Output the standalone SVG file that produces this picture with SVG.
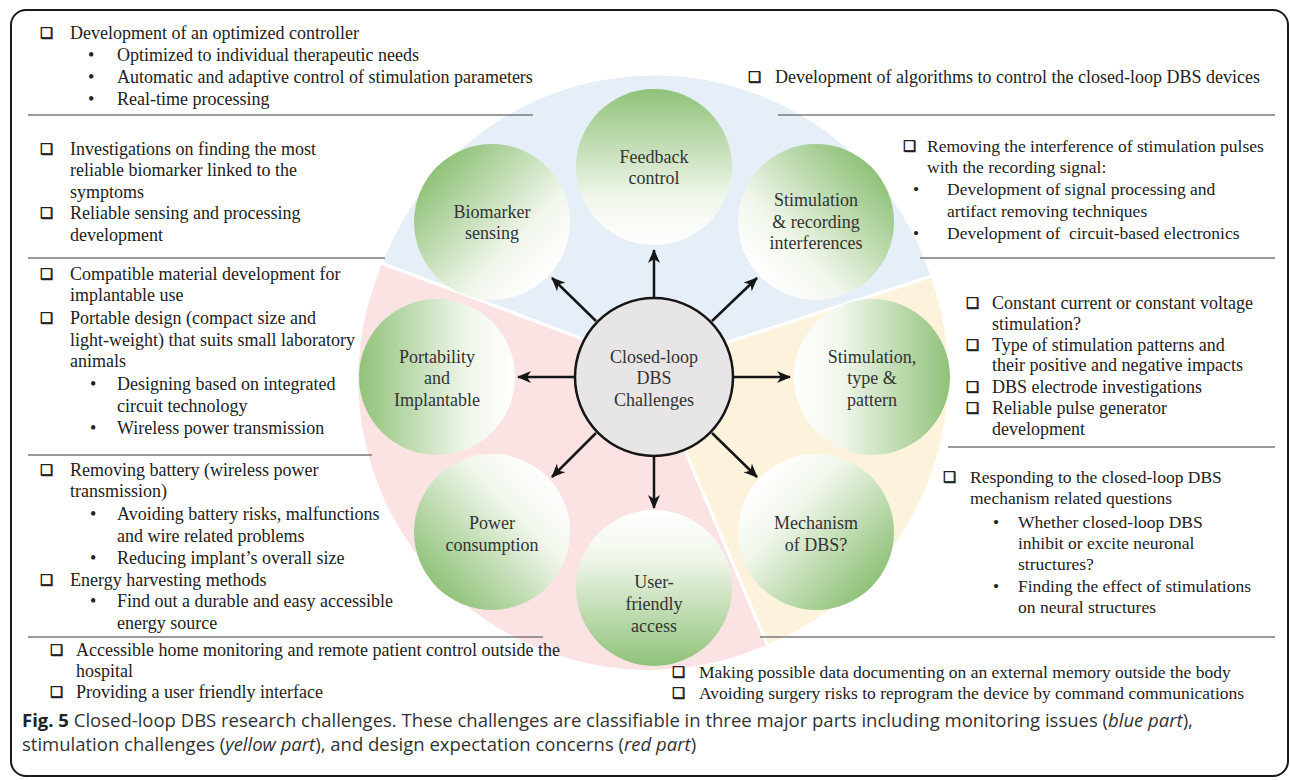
<svg xmlns="http://www.w3.org/2000/svg" width="1290" height="780" viewBox="0 0 1290 780">
<style>
.t{font-family:"Liberation Serif","Times New Roman",serif;font-size:18px;fill:#222}
.ts{font-family:"Liberation Serif","Times New Roman",serif;font-size:17.5px;fill:#222}
.cb{font-family:"DejaVu Sans",sans-serif;font-size:14.5px;fill:#222;stroke:#222;stroke-width:0.6}
.n{font-family:"Liberation Serif","Times New Roman",serif;font-size:18px;fill:#333;text-anchor:middle}
.cap{font-family:"Open Sans","Liberation Sans",sans-serif;font-size:18.5px;fill:#333}
.sep{stroke:#7a7a7a;stroke-width:1.6;fill:none}
.arr{stroke:#151515;stroke-width:2.5;fill:none;marker-end:url(#ah)}
</style>
<defs>
<marker id="ah" markerUnits="userSpaceOnUse" markerWidth="16" markerHeight="14" refX="13" refY="6" orient="auto">
<path d="M0,0 L14,6 L0,12 L4,6 Z" fill="#151515"/>
</marker>
<linearGradient id="gF" x1="0.5" y1="1" x2="0.5" y2="0"><stop offset="0" stop-color="#ffffff"/><stop offset="0.3" stop-color="#f1f7ec"/><stop offset="1" stop-color="#90c279"/></linearGradient>
<linearGradient id="gB" x1="0.861" y1="0.845" x2="0.139" y2="0.155"><stop offset="0" stop-color="#ffffff"/><stop offset="0.3" stop-color="#f1f7ec"/><stop offset="1" stop-color="#90c279"/></linearGradient>
<linearGradient id="gS" x1="0.139" y1="0.845" x2="0.861" y2="0.155"><stop offset="0" stop-color="#ffffff"/><stop offset="0.3" stop-color="#f1f7ec"/><stop offset="1" stop-color="#90c279"/></linearGradient>
<linearGradient id="gP" x1="1" y1="0.5" x2="0" y2="0.5"><stop offset="0" stop-color="#ffffff"/><stop offset="0.3" stop-color="#f1f7ec"/><stop offset="1" stop-color="#90c279"/></linearGradient>
<linearGradient id="gT" x1="0" y1="0.5" x2="1" y2="0.5"><stop offset="0" stop-color="#ffffff"/><stop offset="0.3" stop-color="#f1f7ec"/><stop offset="1" stop-color="#90c279"/></linearGradient>
<linearGradient id="gC" x1="0.861" y1="0.155" x2="0.139" y2="0.845"><stop offset="0" stop-color="#ffffff"/><stop offset="0.3" stop-color="#f1f7ec"/><stop offset="1" stop-color="#90c279"/></linearGradient>
<linearGradient id="gM" x1="0.139" y1="0.155" x2="0.861" y2="0.845"><stop offset="0" stop-color="#ffffff"/><stop offset="0.3" stop-color="#f1f7ec"/><stop offset="1" stop-color="#90c279"/></linearGradient>
<linearGradient id="gU" x1="0.5" y1="0" x2="0.5" y2="1"><stop offset="0" stop-color="#ffffff"/><stop offset="0.3" stop-color="#f1f7ec"/><stop offset="1" stop-color="#90c279"/></linearGradient>
</defs>
<rect x="0" y="0" width="1290" height="780" fill="#ffffff"/>
<rect x="11" y="10" width="1277" height="766" rx="15" ry="15" fill="#ffffff" stroke="#1a1a1a" stroke-width="2"/>

<g id="sectors">
<path d="M654,366 L932,276 A292,292 0 0 0 381,263 Z" fill="#e6eef8" stroke="#ffffff" stroke-width="3"/>
<path d="M654,366 L381,263 A292,292 0 0 0 768,646 L654,377 Z" fill="#fce3e3" stroke="#ffffff" stroke-width="3"/>
<path d="M654,377 L768,646 A292,292 0 0 0 932,276 L654,366 Z" fill="#fdf3dd" stroke="#ffffff" stroke-width="3"/>
</g>

<g id="separators">
<line class="sep" x1="28" y1="115" x2="533" y2="115"/>
<line class="sep" x1="778" y1="115" x2="1275" y2="115"/>
<line class="sep" x1="28" y1="258" x2="385" y2="258"/>
<line class="sep" x1="920" y1="258" x2="1275" y2="258"/>
<line class="sep" x1="28" y1="455" x2="372" y2="455"/>
<line class="sep" x1="948" y1="447" x2="1275" y2="447"/>
<line class="sep" x1="28" y1="637" x2="543" y2="637"/>
<line class="sep" x1="760" y1="637" x2="1275" y2="637"/>
</g>

<g id="connectors">
<line class="arr" x1="654" y1="298" x2="654" y2="250"/>
<line class="arr" x1="712" y1="321" x2="757" y2="278"/>
<line class="arr" x1="733" y1="377" x2="790" y2="377"/>
<line class="arr" x1="712" y1="433" x2="757" y2="477"/>
<line class="arr" x1="654" y1="456" x2="654" y2="508"/>
<line class="arr" x1="596" y1="433" x2="552" y2="477"/>
<line class="arr" x1="575" y1="377" x2="518" y2="377"/>
<line class="arr" x1="596" y1="321" x2="552" y2="278"/>
</g>

<g id="node-feedback">
<circle cx="654" cy="167" r="78" fill="url(#gF)"/>
<text class="n" x="654" y="163">Feedback</text>
<text class="n" x="654" y="184">control</text>
</g>
<g id="node-biomarker">
<circle cx="492" cy="222" r="78" fill="url(#gB)"/>
<text class="n" x="492" y="218">Biomarker</text>
<text class="n" x="492" y="239">sensing</text>
</g>
<g id="node-stimrec">
<circle cx="816" cy="222" r="78" fill="url(#gS)"/>
<text class="n" x="816" y="206">Stimulation</text>
<text class="n" x="816" y="228">&amp; recording</text>
<text class="n" x="816" y="249">interferences</text>
</g>
<g id="node-portability">
<circle cx="437" cy="377" r="78" fill="url(#gP)"/>
<text class="n" x="437" y="363">Portability</text>
<text class="n" x="437" y="384">and</text>
<text class="n" x="437" y="406">Implantable</text>
</g>
<g id="node-stimtype">
<circle cx="872" cy="377" r="78" fill="url(#gT)"/>
<text class="n" x="872" y="363">Stimulation,</text>
<text class="n" x="872" y="384">type &amp;</text>
<text class="n" x="872" y="406">pattern</text>
</g>
<g id="node-power">
<circle cx="492" cy="532" r="78" fill="url(#gC)"/>
<text class="n" x="492" y="529">Power</text>
<text class="n" x="492" y="551">consumption</text>
</g>
<g id="node-mechanism">
<circle cx="816" cy="532" r="78" fill="url(#gM)"/>
<text class="n" x="816" y="529">Mechanism</text>
<text class="n" x="816" y="551">of DBS?</text>
</g>
<g id="node-user">
<circle cx="654" cy="588" r="78" fill="url(#gU)"/>
<text class="n" x="654" y="588">User-</text>
<text class="n" x="654" y="610">friendly</text>
<text class="n" x="654" y="632">access</text>
</g>
<g id="node-center">
<circle cx="654" cy="377" r="79" fill="#e7e5e5" stroke="#151515" stroke-width="2.5"/>
<text class="n" x="654" y="363">Closed-loop</text>
<text class="n" x="654" y="384">DBS</text>
<text class="n" x="654" y="406">Challenges</text>
</g>

<g id="text-controller">
<text class="cb" x="40" y="38">❑</text>
<text class="t" x="70" y="39">Development of an optimized controller</text>
<text class="t" x="88" y="61">•</text><text class="t" x="117" y="61">Optimized to individual therapeutic needs</text>
<text class="t" x="88" y="83">•</text><text class="t" x="117" y="83">Automatic and adaptive control of stimulation parameters</text>
<text class="t" x="88" y="105">•</text><text class="t" x="117" y="105">Real-time processing</text>
</g>
<g id="text-algorithms">
<text class="cb" x="748" y="82">❑</text>
<text class="t" x="775" y="83">Development of algorithms to control the closed-loop DBS devices</text>
</g>
<g id="text-biomarker">
<text class="cb" x="40" y="154">❑</text>
<text class="t" x="70" y="155">Investigations on finding the most</text>
<text class="t" x="70" y="176">reliable biomarker linked to the</text>
<text class="t" x="70" y="198">symptoms</text>
<text class="cb" x="40" y="218">❑</text>
<text class="t" x="70" y="219">Reliable sensing and processing</text>
<text class="t" x="70" y="241">development</text>
</g>
<g id="text-interference">
<text class="cb" x="903" y="151">❑</text>
<text class="ts" x="927" y="152">Removing the interference of stimulation pulses</text>
<text class="ts" x="927" y="173">with the recording signal:</text>
<text class="ts" x="913" y="195">•</text><text class="ts" x="947" y="195">Development of signal processing and</text>
<text class="ts" x="947" y="217">artifact removing techniques</text>
<text class="ts" x="913" y="239">•</text><text class="ts" x="947" y="239">Development of&#160; circuit-based electronics</text>
</g>
<g id="text-portability">
<text class="cb" x="40" y="279">❑</text>
<text class="t" x="70" y="280">Compatible material development for</text>
<text class="t" x="70" y="301">implantable use</text>
<text class="cb" x="40" y="323">❑</text>
<text class="t" x="70" y="324">Portable design (compact size and</text>
<text class="t" x="70" y="346">light-weight) that suits small laboratory</text>
<text class="t" x="70" y="367">animals</text>
<text class="t" x="90" y="390">•</text><text class="t" x="117" y="390">Designing based on integrated</text>
<text class="t" x="117" y="412">circuit technology</text>
<text class="t" x="90" y="434">•</text><text class="t" x="117" y="434">Wireless power transmission</text>
</g>
<g id="text-stimtype">
<text class="cb" x="966" y="308">❑</text>
<text class="t" x="992" y="309">Constant current or constant voltage</text>
<text class="t" x="992" y="330">stimulation?</text>
<text class="cb" x="966" y="350">❑</text>
<text class="t" x="992" y="351">Type of stimulation patterns and</text>
<text class="t" x="992" y="371">their positive and negative impacts</text>
<text class="cb" x="966" y="392">❑</text>
<text class="t" x="992" y="393">DBS electrode investigations</text>
<text class="cb" x="966" y="413">❑</text>
<text class="t" x="992" y="414">Reliable pulse generator</text>
<text class="t" x="992" y="435">development</text>
</g>
<g id="text-power">
<text class="cb" x="40" y="475">❑</text>
<text class="t" x="70" y="476">Removing battery (wireless power</text>
<text class="t" x="70" y="497">transmission)</text>
<text class="t" x="90" y="520">•</text><text class="t" x="117" y="520">Avoiding battery risks, malfunctions</text>
<text class="t" x="117" y="542">and wire related problems</text>
<text class="t" x="90" y="564">•</text><text class="t" x="117" y="564">Reducing implant’s overall size</text>
<text class="cb" x="40" y="585">❑</text>
<text class="t" x="70" y="586">Energy harvesting methods</text>
<text class="t" x="90" y="607">•</text><text class="t" x="117" y="607">Find out a durable and easy accessible</text>
<text class="t" x="117" y="629">energy source</text>
</g>
<g id="text-mechanism">
<text class="cb" x="943" y="482">❑</text>
<text class="ts" x="970" y="483">Responding to the closed-loop DBS</text>
<text class="ts" x="970" y="504">mechanism related questions</text>
<text class="ts" x="993" y="528">•</text><text class="ts" x="1018" y="528">Whether closed-loop DBS</text>
<text class="ts" x="1018" y="549">inhibit or excite neuronal</text>
<text class="ts" x="1018" y="570">structures?</text>
<text class="ts" x="993" y="592">•</text><text class="ts" x="1018" y="592">Finding the effect of stimulations</text>
<text class="ts" x="1018" y="613">on neural structures</text>
</g>
<g id="text-access">
<text class="cb" x="50" y="655">❑</text>
<text class="t" x="76" y="656">Accessible home monitoring and remote patient control outside the</text>
<text class="t" x="76" y="677">hospital</text>
<text class="cb" x="50" y="697">❑</text>
<text class="t" x="76" y="698">Providing a user friendly interface</text>
</g>
<g id="text-memory">
<text class="cb" x="672" y="677">❑</text>
<text class="ts" x="699" y="678">Making possible data documenting on an external memory outside the body</text>
<text class="cb" x="672" y="698">❑</text>
<text class="ts" x="699" y="699">Avoiding surgery risks to reprogram the device by command communications</text>
</g>

<g id="caption">
<text class="cap" x="22" y="727"><tspan font-weight="bold" fill="#222">Fig. 5</tspan> Closed-loop DBS research challenges. These challenges are classifiable in three major parts including monitoring issues (<tspan font-style="italic">blue part</tspan>),</text>
<text class="cap" x="22" y="751">stimulation challenges (<tspan font-style="italic">yellow part</tspan>), and design expectation concerns (<tspan font-style="italic">red part</tspan>)</text>
</g>
</svg>
